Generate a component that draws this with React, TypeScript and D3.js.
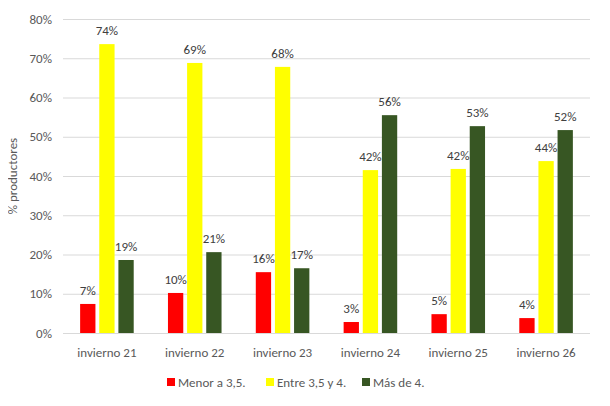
import React, { useEffect, useRef } from 'react'
import * as d3 from 'd3'

const categories = ['invierno 21', 'invierno 22', 'invierno 23', 'invierno 24', 'invierno 25', 'invierno 26']
const seriesNames = ['Menor a 3,5.', 'Entre 3,5 y 4.', 'Más de 4.']
const seriesColors = ['#ff0000', '#ffff00', '#375623']
const menor = [7.4, 10.2, 15.5, 2.8, 4.8, 3.8]
const entre = [73.6, 68.8, 67.8, 41.5, 41.8, 43.8]
const mas = [18.6, 20.6, 16.5, 55.5, 52.7, 51.7]
const yTicks = [0, 10, 20, 30, 40, 50, 60, 70, 80]

const W = 610
const H = 406
const FONT = 'Carlito, Calibri, Lato, sans-serif'
const FS = 13

const App: React.FC = () => {
  const svgRef = useRef<SVGSVGElement | null>(null)

  useEffect(() => {
    if (!svgRef.current) return
    const svg = d3.select(svgRef.current)
    svg.selectAll('*').remove()

    const left = 63
    const right = 590
    const top = 19
    const bottom = 333

    const values = [menor, entre, mas]

    const x0 = d3.scaleBand<string>().domain(categories).range([left, right]).paddingInner(0.39).paddingOuter(0.195)
    const x1 = d3.scaleBand<string>().domain(seriesNames).range([0, x0.bandwidth()]).paddingInner(0.2)
    const y = d3.scaleLinear().domain([0, 80]).range([bottom, top])

    svg.append('rect').attr('width', W).attr('height', H).attr('fill', '#ffffff')

    // gridlines
    svg
      .append('g')
      .selectAll('line')
      .data(yTicks)
      .join('line')
      .attr('x1', left)
      .attr('x2', right)
      .attr('y1', (d) => y(d) + 0.5)
      .attr('y2', (d) => y(d) + 0.5)
      .attr('stroke', '#d9d9d9')
      .attr('stroke-width', 1)

    // y tick labels
    svg
      .append('g')
      .selectAll('text')
      .data(yTicks)
      .join('text')
      .attr('x', 52)
      .attr('y', (d) => y(d))
      .attr('dy', '0.35em')
      .attr('text-anchor', 'end')
      .attr('font-family', FONT)
      .attr('font-size', FS)
      .attr('fill', '#595959')
      .text((d) => `${d}%`)

    // y axis title
    svg
      .append('text')
      .attr('transform', `translate(17,${(top + bottom) / 2}) rotate(-90)`)
      .attr('text-anchor', 'middle')
      .attr('font-family', FONT)
      .attr('font-size', FS)
      .attr('fill', '#595959')
      .text('% productores')

    // bars
    const groups = svg
      .append('g')
      .selectAll('g')
      .data(categories)
      .join('g')
      .attr('transform', (d) => `translate(${x0(d)},0)`)

    groups
      .selectAll('rect')
      .data((_, i) => seriesNames.map((s, k) => ({ s, k, v: values[k][i] })))
      .join('rect')
      .attr('x', (d) => x1(d.s)!)
      .attr('y', (d) => y(d.v))
      .attr('width', x1.bandwidth())
      .attr('height', (d) => bottom - y(d.v))
      .attr('fill', (d) => seriesColors[d.k])

    groups
      .selectAll('text')
      .data((_, i) => seriesNames.map((s, k) => ({ s, k, v: values[k][i] })))
      .join('text')
      .attr('x', (d) => x1(d.s)! + x1.bandwidth() / 2)
      .attr('y', (d) => y(d.v) - 9)
      .attr('text-anchor', 'middle')
      .attr('font-family', FONT)
      .attr('font-size', FS)
      .attr('fill', '#404040')
      .text((d) => `${Math.round(d.v)}%`)

    // category labels
    svg
      .append('g')
      .selectAll('text')
      .data(categories)
      .join('text')
      .attr('x', (d) => x0(d)! + x0.bandwidth() / 2)
      .attr('y', 352)
      .attr('dy', '0.35em')
      .attr('text-anchor', 'middle')
      .attr('font-family', FONT)
      .attr('font-size', FS)
      .attr('fill', '#595959')
      .text((d) => d)

    // legend
    const legendX = [167, 266, 362]
    const legend = svg
      .append('g')
      .selectAll('g')
      .data(seriesNames)
      .join('g')
      .attr('transform', (_, i) => `translate(${legendX[i]},382)`)
    legend
      .append('rect')
      .attr('x', 0)
      .attr('y', -4)
      .attr('width', 8)
      .attr('height', 8)
      .attr('fill', (_, i) => seriesColors[i])
    legend
      .append('text')
      .attr('x', 11)
      .attr('y', 0)
      .attr('dy', '0.35em')
      .attr('font-family', FONT)
      .attr('font-size', FS)
      .attr('fill', '#595959')
      .text((d) => d)
  }, [])

  return <svg ref={svgRef} width={W} height={H} style={{ display: 'block', margin: '-8px' }} />
}

export default App
